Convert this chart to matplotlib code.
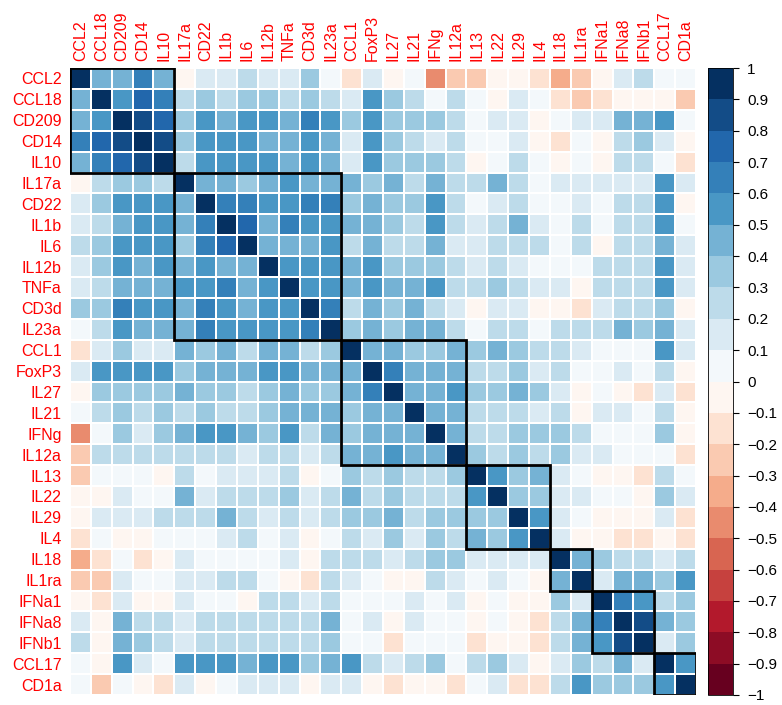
import numpy as np
import matplotlib
matplotlib.use("Agg")
import matplotlib.pyplot as plt
from matplotlib.colors import LinearSegmentedColormap, ListedColormap
from matplotlib.patches import Rectangle

plt.rcParams['font.family'] = ['Liberation Sans', 'DejaVu Sans']

labels = ['CCL2', 'CCL18', 'CD209', 'CD14', 'IL10', 'IL17a', 'CD22', 'IL1b', 'IL6',
          'IL12b', 'TNFa', 'CD3d', 'IL23a', 'CCL1', 'FoxP3', 'IL27', 'IL21', 'IFNg',
          'IL12a', 'IL13', 'IL22', 'IL29', 'IL4', 'IL18', 'IL1ra', 'IFNa1', 'IFNa8',
          'IFNb1', 'CCL17', 'CD1a']

# lower triangle of the correlation matrix, one row per variable
ccl2 = [1]
ccl18 = [0.45, 1]
cd209 = [0.45, 0.55, 1]
cd14 = [0.65, 0.75, 0.85, 1]
il10 = [0.45, 0.65, 0.75, 0.85, 1]
il17a = [-0.05, 0.25, 0.35, 0.3, 0.25, 1]
cd22 = [0.15, 0.35, 0.55, 0.5, 0.55, 0.45, 1]
il1b = [0.15, 0.25, 0.45, 0.55, 0.55, 0.45, 0.65, 1]
il6 = [0.25, 0.35, 0.55, 0.55, 0.55, 0.35, 0.65, 0.75, 1]
il12b = [0.15, 0.35, 0.55, 0.45, 0.55, 0.45, 0.55, 0.45, 0.45, 1]
tnfa = [0.15, 0.25, 0.45, 0.45, 0.45, 0.55, 0.55, 0.65, 0.45, 0.55, 1]
cd3d = [0.35, 0.35, 0.65, 0.55, 0.55, 0.45, 0.65, 0.55, 0.45, 0.55, 0.55, 1]
il23a = [0.05, 0.25, 0.55, 0.45, 0.45, 0.45, 0.65, 0.55, 0.55, 0.55, 0.55, 0.65, 1]
ccl1 = [-0.15, 0.15, 0.35, 0.15, 0.15, 0.45, 0.35, 0.45, 0.25, 0.45, 0.45, 0.25, 0.35, 1]
foxp3 = [0.15, 0.55, 0.55, 0.55, 0.55, 0.35, 0.45, 0.45, 0.45, 0.55, 0.55, 0.45, 0.45,
         0.45, 1]
il27 = [-0.05, 0.35, 0.35, 0.35, 0.35, 0.45, 0.35, 0.35, 0.25, 0.35, 0.45, 0.35, 0.35,
        0.45, 0.65, 1]
il21 = [0.05, 0.25, 0.35, 0.25, 0.35, 0.25, 0.35, 0.25, 0.25, 0.35, 0.45, 0.45, 0.45,
        0.35, 0.45, 0.45, 1]
ifng = [-0.45, 0.05, 0.35, 0.15, 0.35, 0.45, 0.55, 0.55, 0.45, 0.35, 0.55, 0.25, 0.45,
        0.35, 0.45, 0.45, 0.45, 1]
il12a = [-0.25, 0.25, 0.25, 0.25, 0.25, 0.25, 0.25, 0.25, 0.15, 0.25, 0.25, 0.15, 0.25,
         0.45, 0.45, 0.55, 0.45, 0.45, 1]
il13 = [-0.25, 0.05, 0.05, 0.05, -0.05, 0.25, 0.05, 0.15, 0.15, 0.15, 0.25, -0.05, 0.05,
        0.35, 0.25, 0.35, 0.25, 0.25, 0.35, 1]
il22 = [-0.05, -0.05, 0.15, 0.05, 0.05, 0.45, 0.15, 0.25, 0.25, 0.25, 0.35, 0.15, 0.25,
        0.45, 0.25, 0.35, 0.25, 0.25, 0.25, 0.55, 1]
il29 = [-0.05, 0.15, 0.15, 0.15, 0.25, 0.25, 0.25, 0.45, 0.25, 0.15, 0.25, 0.15, 0.25,
        0.35, 0.35, 0.45, 0.25, 0.35, 0.35, 0.35, 0.35, 1]
il4 = [-0.15, 0.05, -0.05, -0.05, 0.05, 0.05, 0.05, 0.15, 0.25, 0.05, 0.15, -0.05, 0.05,
       0.25, 0.15, 0.35, 0.15, 0.35, 0.25, 0.45, 0.35, 0.55, 1]
il18 = [-0.35, -0.15, 0.05, -0.15, -0.05, 0.15, 0.05, 0.05, 0.05, 0.05, 0.15, -0.05, 0.25,
        0.25, 0.25, 0.15, 0.25, 0.35, 0.35, 0.15, 0.15, 0.15, 0.15, 1]
il1ra = [-0.25, -0.25, 0.15, 0.05, 0.05, 0.15, 0.15, 0.25, 0.25, 0.05, -0.05, -0.15, 0.25,
         0.15, 0.05, -0.05, -0.05, 0.25, 0.15, 0.05, 0.15, 0.05, -0.05, 0.45, 1]
ifna1 = [-0.05, -0.15, 0.15, -0.05, -0.05, 0.15, 0.05, 0.05, -0.05, 0.25, 0.25, 0.15, 0.25,
         0.05, 0.05, 0.05, 0.15, 0.05, 0.15, -0.05, 0.05, -0.05, -0.05, 0.35, 0.15, 1]
ifna8 = [0.15, -0.05, 0.45, 0.25, 0.25, 0.15, 0.25, 0.25, 0.25, 0.25, 0.25, 0.25, 0.45,
         0.05, 0.15, -0.05, 0.15, 0.05, 0.05, -0.05, 0.05, -0.05, -0.15, 0.25, 0.45, 0.65, 1]
ifnb1 = [0.25, -0.05, 0.45, 0.35, 0.25, 0.15, 0.25, 0.25, 0.25, 0.25, 0.25, 0.25, 0.35,
         0.05, 0.05, -0.15, 0.05, 0.05, 0.05, -0.15, -0.05, -0.05, -0.15, 0.25, 0.45, 0.55,
         0.85, 1]
ccl17 = [0.05, -0.05, 0.55, 0.15, 0.05, 0.55, 0.55, 0.55, 0.45, 0.55, 0.55, 0.35, 0.45,
         0.55, 0.25, 0.15, 0.25, 0.35, 0.05, 0.25, 0.35, 0.15, -0.05, 0.15, 0.35, 0.25, 0.45,
         0.15, 1]
cd1a = [0.05, -0.25, 0.05, -0.05, -0.15, 0.15, -0.05, 0.05, 0.15, 0.15, 0.15, -0.05, 0.15,
        0.15, -0.05, -0.15, -0.05, -0.05, -0.15, 0.05, 0.15, -0.15, -0.15, 0.25, 0.55, 0.35,
        0.35, 0.35, 0.55, 1]

lower_rows = [ccl2, ccl18, cd209, cd14, il10, il17a, cd22, il1b, il6, il12b, tnfa, cd3d,
              il23a, ccl1, foxp3, il27, il21, ifng, il12a, il13, il22, il29, il4, il18,
              il1ra, ifna1, ifna8, ifnb1, ccl17, cd1a]

# hierarchical clusters (sizes, in label order)
cluster_sizes = [5, 8, 6, 4, 2, 3, 2]

n = len(labels)
corr = np.zeros((n, n))
for i, row in enumerate(lower_rows):
    for j, v in enumerate(row):
        corr[i, j] = v
        corr[j, i] = v

# corrplot style RdBu palette, 20 colours
base = ["#67001F", "#B2182B", "#D6604D", "#F4A582", "#FDDBC7", "#FFFFFF",
        "#D1E5F0", "#92C5DE", "#4393C3", "#2166AC", "#053061"]
ramp = LinearSegmentedColormap.from_list("ramp", base)
cmap = ListedColormap(ramp(np.linspace(0, 1, 20)))

fig = plt.figure(figsize=(7.82, 7.05), dpi=100)
ax = fig.add_axes([70 / 782, 10 / 705, 626 / 782, 627 / 705])

mesh = ax.pcolormesh(np.arange(n + 1), np.arange(n + 1), corr, cmap=cmap,
                     vmin=-1, vmax=1, edgecolors='white', linewidth=1.2)
ax.set_xlim(0, n)
ax.set_ylim(n, 0)

start = 0
for size in cluster_sizes:
    ax.add_patch(Rectangle((start, start), size, size, fill=False,
                           edgecolor='black', linewidth=2, zorder=3))
    start += size

ax.xaxis.tick_top()
ax.set_xticks(np.arange(n) + 0.5)
ax.set_xticklabels(labels, rotation=90, color='red', fontsize=11.5)
ax.set_yticks(np.arange(n) + 0.5)
ax.set_yticklabels(labels, color='red', fontsize=11.5)
ax.tick_params(axis='x', length=0, pad=5)
ax.tick_params(axis='y', length=0, pad=6)
for s in ax.spines.values():
    s.set_visible(False)

cax = fig.add_axes([708 / 782, 10 / 705, 25 / 782, 627 / 705])
ticks = np.round(np.linspace(-1, 1, 21), 1)
cb = fig.colorbar(mesh, cax=cax, ticks=ticks)
tick_text = []
for t in ticks:
    if t == 0:
        tick_text.append('0')
    elif abs(t) == 1:
        tick_text.append('1' if t > 0 else '\u22121')
    else:
        tick_text.append(('%.1f' % t).replace('-', '\u2212'))
cb.set_ticklabels(tick_text)
cb.ax.tick_params(labelsize=11, length=4, width=0.8, pad=6)
cb.outline.set_linewidth(0.6)

fig.savefig('out.png', dpi=100)
